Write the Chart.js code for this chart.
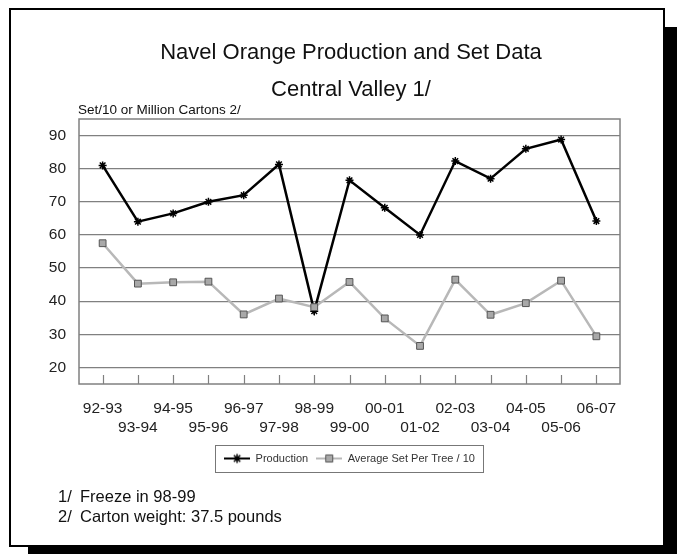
<!DOCTYPE html>
<html>
<head>
<meta charset="utf-8">
<script src="https://cdn.jsdelivr.net/npm/chart.js@4.4.1/dist/chart.umd.min.js"></script>
<style>
  html, body { margin: 0; padding: 0; background: #fff; }
  #frame {
    position: absolute; left: 9px; top: 8px; width: 656px; height: 539px;
    box-sizing: border-box; border: 2px solid #000; background: #fff;
    box-shadow: 19px 19px 0 #000;
  }
  #myChart { position: absolute; left: 0; top: 0; }
</style>
</head>
<body>
<div id="frame"></div>
<canvas id="myChart" width="677" height="554"></canvas>
<script>
var seasons = ['92-93','93-94','94-95','95-96','96-97','97-98','98-99','99-00',
               '00-01','01-02','02-03','03-04','04-05','05-06','06-07'];
var production = [81, 64, 66.5, 70, 72, 81.3, 37, 76.5, 68.2, 60, 82.3, 77, 86, 88.8, 64.2];
var avgSet = [57.5, 45.3, 45.7, 45.9, 36, 40.8, 38.2, 45.8, 34.8, 26.5, 46.5, 35.9, 39.4, 46.2, 29.4];
var yTicks = [20, 30, 40, 50, 60, 70, 80, 90];

var FONT = "'Liberation Sans', Arial, sans-serif";
Chart.defaults.font.family = FONT;

function legendIcon(color, lineW, pointOpts) {
  var c = document.createElement('canvas');
  c.width = 26; c.height = 12;
  var ctx = c.getContext('2d');
  ctx.strokeStyle = color; ctx.lineWidth = lineW;
  ctx.beginPath(); ctx.moveTo(0, 6); ctx.lineTo(26, 6); ctx.stroke();
  ctx.fillStyle = pointOpts.bg; ctx.strokeStyle = pointOpts.border;
  ctx.lineWidth = pointOpts.borderWidth;
  Chart.helpers.drawPoint(ctx, pointOpts, 13, 6);
  return c;
}

var prodIcon = legendIcon('#000', 2, {pointStyle: 'star', radius: 4.5, borderWidth: 1.5, bg: '#000', border: '#000', rotation: 0});
var setIcon = legendIcon('#b8b8b8', 2, {pointStyle: 'rect', radius: 5, borderWidth: 1, bg: '#a8a8a8', border: '#555', rotation: 0});

var extras = {
  id: 'extras',
  beforeDatasetsDraw: function(chart) {
    var ctx = chart.ctx, a = chart.chartArea, x = chart.scales.x;
    ctx.save();
    ctx.strokeStyle = '#808080';
    ctx.lineWidth = 1.5;
    ctx.strokeRect(a.left, a.top, a.right - a.left, a.bottom - a.top);
    ctx.lineWidth = 1.2;
    ctx.beginPath();
    seasons.forEach(function(s, i) {
      var px = Math.round(x.getPixelForValue(i)) + 0.5;
      ctx.moveTo(px, a.bottom);
      ctx.lineTo(px, a.bottom - 9);
    });
    ctx.stroke();
    ctx.restore();
  },
  afterDraw: function(chart) {
    var ctx = chart.ctx;
    ctx.save();
    ctx.fillStyle = '#111';
    ctx.textBaseline = 'middle';
    ctx.textAlign = 'center';
    ctx.font = '22px ' + FONT;
    ctx.fillText('Navel Orange Production and Set Data', 351, 53);
    ctx.fillText('Central Valley 1/', 351, 90);
    ctx.textAlign = 'left';
    ctx.font = '13.5px ' + FONT;
    ctx.fillText('Set/10 or Million Cartons 2/', 78, 110);
    ctx.font = '16.5px ' + FONT;
    ctx.fillText('1/', 58, 497);
    ctx.fillText('Freeze in 98-99', 80, 497);
    ctx.fillText('2/', 58, 517);
    ctx.fillText('Carton weight: 37.5 pounds', 80, 517);
    // border round the legend
    var lg = chart.legend;
    if (lg && lg.legendHitBoxes && lg.legendHitBoxes.length) {
      var hb = lg.legendHitBoxes;
      var l = hb[0].left, r = hb[hb.length - 1].left + hb[hb.length - 1].width;
      ctx.strokeStyle = '#777';
      ctx.lineWidth = 1;
      ctx.strokeRect(Math.round(l - 9) + 0.5, Math.round(lg.top) + 0.5, Math.round(r - l + 17), 27);
    }
    ctx.restore();
  }
};

new Chart(document.getElementById('myChart'), {
  type: 'line',
  data: {
    datasets: [{
      label: 'Production',
      data: production.map(function(v, i) { return {x: i, y: v}; }),
      borderColor: '#000',
      backgroundColor: '#000',
      borderWidth: 2.5,
      pointStyle: 'star',
      pointRadius: 4,
      pointBorderWidth: 1.5,
      tension: 0,
      order: 1
    }, {
      label: 'Average Set Per Tree / 10',
      data: avgSet.map(function(v, i) { return {x: i, y: v}; }),
      borderColor: '#b8b8b8',
      backgroundColor: '#a8a8a8',
      pointBorderColor: '#555',
      borderWidth: 2.5,
      pointStyle: 'rect',
      pointRadius: 4.8,
      pointBorderWidth: 1,
      tension: 0,
      order: 0
    }]
  },
  options: {
    responsive: false,
    animation: false,
    layout: { padding: { top: 119, right: 57, left: 0, bottom: 80 } },
    plugins: {
      title: { display: false },
      tooltip: { enabled: false },
      legend: {
        display: true,
        position: 'bottom',
        fullSize: false,
        labels: {
          usePointStyle: true,
          pointStyleWidth: 26,
          padding: 8,
          color: '#333',
          font: { size: 11 },
          sort: function(a, b) { return a.datasetIndex - b.datasetIndex; },
          generateLabels: function(chart) {
            var items = Chart.defaults.plugins.legend.labels.generateLabels(chart);
            items.forEach(function(it) {
              it.pointStyle = it.datasetIndex === 0 ? prodIcon : setIcon;
            });
            return items;
          }
        }
      }
    },
    scales: {
      x: {
        type: 'linear',
        min: -0.67,
        max: 14.67,
        afterBuildTicks: function(scale) {
          scale.ticks = seasons.map(function(s, i) { return {value: i}; });
        },
        afterFit: function(scale) { scale.height = 61; },
        grid: { display: false, drawTicks: false },
        border: { display: false },
        ticks: {
          autoSkip: false,
          maxRotation: 0,
          padding: 15,
          color: '#222',
          font: { size: 15.5, lineHeight: '19px' },
          callback: function(v) {
            var i = Math.round(v);
            return i % 2 === 0 ? seasons[i] : ['', seasons[i]];
          }
        }
      },
      y: {
        min: 15,
        max: 95,
        afterBuildTicks: function(scale) {
          scale.ticks = yTicks.map(function(v) { return {value: v}; });
        },
        afterFit: function(scale) { scale.width = 79; },
        border: { display: false },
        grid: { color: '#808080', lineWidth: 1.2, drawTicks: false },
        ticks: {
          padding: 13,
          color: '#222',
          font: { size: 15.5 }
        }
      }
    }
  },
  plugins: [extras]
});
</script>
</body>
</html>
